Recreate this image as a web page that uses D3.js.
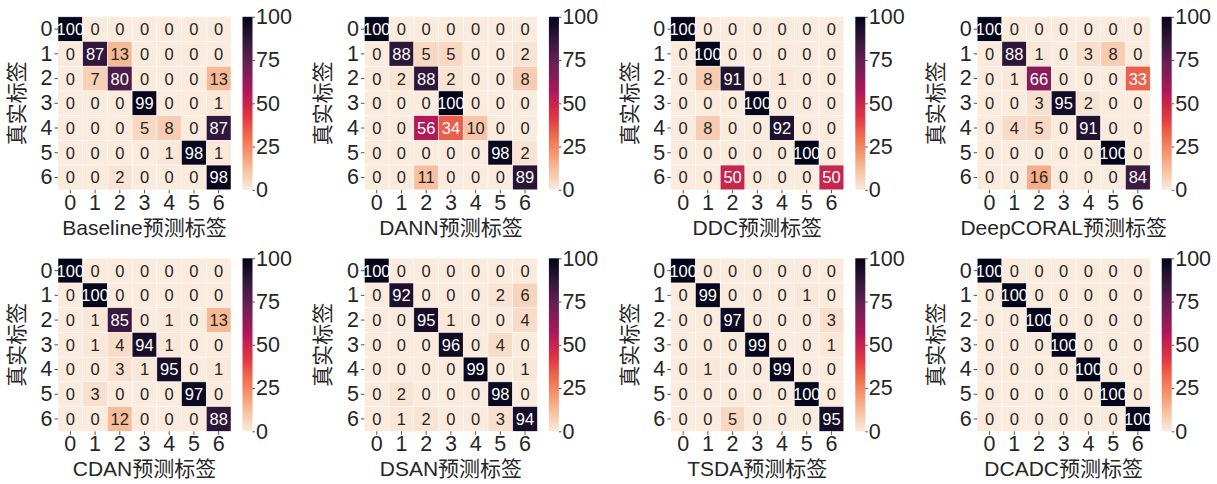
<!DOCTYPE html>
<html>
<head>
<meta charset="utf-8">
<script src="https://cdn.jsdelivr.net/npm/d3@7"></script>
<style>
  body { margin: 0; background: #fff; }
  svg text { font-family: "Liberation Sans", Arial, "Noto Sans CJK SC", sans-serif; fill: #262626; font-weight: normal; }
</style>
</head>
<body>
<div id="chart"></div>
<script>
// class labels 0..6
var classLabels = ["0", "1", "2", "3", "4", "5", "6"];
var colorbarTicks = [0, 25, 50, 75, 100];
var yTitle = "真实标签";

var methodNames = ["Baseline", "DANN", "DDC", "DeepCORAL", "CDAN", "DSAN", "TSDA", "DCADC"];

var baseline = [
  [100, 0, 0, 0, 0, 0, 0],
  [0, 87, 13, 0, 0, 0, 0],
  [0, 7, 80, 0, 0, 0, 13],
  [0, 0, 0, 99, 0, 0, 1],
  [0, 0, 0, 5, 8, 0, 87],
  [0, 0, 0, 0, 1, 98, 1],
  [0, 0, 2, 0, 0, 0, 98]
];
var dann = [
  [100, 0, 0, 0, 0, 0, 0],
  [0, 88, 5, 5, 0, 0, 2],
  [0, 2, 88, 2, 0, 0, 8],
  [0, 0, 0, 100, 0, 0, 0],
  [0, 0, 56, 34, 10, 0, 0],
  [0, 0, 0, 0, 0, 98, 2],
  [0, 0, 11, 0, 0, 0, 89]
];
var ddc = [
  [100, 0, 0, 0, 0, 0, 0],
  [0, 100, 0, 0, 0, 0, 0],
  [0, 8, 91, 0, 1, 0, 0],
  [0, 0, 0, 100, 0, 0, 0],
  [0, 8, 0, 0, 92, 0, 0],
  [0, 0, 0, 0, 0, 100, 0],
  [0, 0, 50, 0, 0, 0, 50]
];
var deepcoral = [
  [100, 0, 0, 0, 0, 0, 0],
  [0, 88, 1, 0, 3, 8, 0],
  [0, 1, 66, 0, 0, 0, 33],
  [0, 0, 3, 95, 2, 0, 0],
  [0, 4, 5, 0, 91, 0, 0],
  [0, 0, 0, 0, 0, 100, 0],
  [0, 0, 16, 0, 0, 0, 84]
];
var cdan = [
  [100, 0, 0, 0, 0, 0, 0],
  [0, 100, 0, 0, 0, 0, 0],
  [0, 1, 85, 0, 1, 0, 13],
  [0, 1, 4, 94, 1, 0, 0],
  [0, 0, 3, 1, 95, 0, 1],
  [0, 3, 0, 0, 0, 97, 0],
  [0, 0, 12, 0, 0, 0, 88]
];
var dsan = [
  [100, 0, 0, 0, 0, 0, 0],
  [0, 92, 0, 0, 0, 2, 6],
  [0, 0, 95, 1, 0, 0, 4],
  [0, 0, 0, 96, 0, 4, 0],
  [0, 0, 0, 0, 99, 0, 1],
  [0, 2, 0, 0, 0, 98, 0],
  [0, 1, 2, 0, 0, 3, 94]
];
var tsda = [
  [100, 0, 0, 0, 0, 0, 0],
  [0, 99, 0, 0, 0, 1, 0],
  [0, 0, 97, 0, 0, 0, 3],
  [0, 0, 0, 99, 0, 0, 1],
  [0, 1, 0, 0, 99, 0, 0],
  [0, 0, 0, 0, 0, 100, 0],
  [0, 0, 5, 0, 0, 0, 95]
];
var dcadc = [
  [100, 0, 0, 0, 0, 0, 0],
  [0, 100, 0, 0, 0, 0, 0],
  [0, 0, 100, 0, 0, 0, 0],
  [0, 0, 0, 100, 0, 0, 0],
  [0, 0, 0, 0, 100, 0, 0],
  [0, 0, 0, 0, 0, 100, 0],
  [0, 0, 0, 0, 0, 0, 100]
];

var matrices = [baseline, dann, ddc, deepcoral, cdan, dsan, tsda, dcadc];

// seaborn "rocket" stops, reversed so 0 is light
var rocketStops = ["#03051a", "#35193e", "#701f57", "#ad1759", "#e13342", "#f37651", "#f6b48f", "#faebdd"];

(function () {
  var rocket = d3.scaleLinear()
      .domain(d3.range(rocketStops.length).map(function(i){ return i / (rocketStops.length - 1); }))
      .range(rocketStops)
      .interpolate(d3.interpolateRgb);
  function color(v){ return rocket(1 - v / 100); }

  function textColor(v){
    var c = d3.rgb(color(v));
    function lin(x){ x = x / 255; return x <= 0.03928 ? x / 12.92 : Math.pow((x + 0.055) / 1.055, 2.4); }
    var lum = 0.2126 * lin(c.r) + 0.7152 * lin(c.g) + 0.0722 * lin(c.b);
    return lum > 0.408 ? "#262626" : "#ffffff";
  }

  var width = 1217, height = 484;
  var size = 173;
  var svg = d3.select("#chart").append("svg")
      .attr("width", width)
      .attr("height", height);

  var grad = svg.append("defs").append("linearGradient")
      .attr("id", "cbar")
      .attr("x1", 0).attr("y1", 1).attr("x2", 0).attr("y2", 0);
  d3.range(0, 101, 2).forEach(function(v){
    grad.append("stop").attr("offset", v + "%").attr("stop-color", color(v));
  });

  var x = d3.scaleBand().domain(classLabels).range([0, size]);
  var y = d3.scaleBand().domain(classLabels).range([0, size]);
  var cScale = d3.scaleLinear().domain([0, 100]).range([size, 0]);

  for (var k = 0; k < matrices.length; k++) {
    var col = k % 4, row = Math.floor(k / 4);
    var panelX = 58 + col * 306.4;
    var panelY = 16.8 + row * 241.5;
    drawPanel(matrices[k], methodNames[k], panelX, panelY);
  }

  function drawPanel(mat, name, px, py) {
    var g = svg.append("g").attr("transform", "translate(" + px + "," + py + ")");

    var cells = [];
    mat.forEach(function(r, i){
      r.forEach(function(v, j){ cells.push({ row: classLabels[i], col: classLabels[j], value: v }); });
    });

    g.selectAll("rect.cell")
      .data(cells)
      .enter()
      .append("rect")
      .attr("class", "cell")
      .attr("x", function(d){ return x(d.col); })
      .attr("y", function(d){ return y(d.row); })
      .attr("width", x.bandwidth())
      .attr("height", y.bandwidth())
      .attr("fill", function(d){ return color(d.value); })
      .attr("stroke", "#ffffff")
      .attr("stroke-opacity", 0.8)
      .attr("stroke-width", 0.6);

    g.selectAll("text.annot")
      .data(cells)
      .enter()
      .append("text")
      .attr("class", "annot")
      .attr("x", function(d){ return x(d.col) + x.bandwidth() / 2; })
      .attr("y", function(d){ return y(d.row) + y.bandwidth() / 2; })
      .attr("dy", "0.36em")
      .attr("text-anchor", "middle")
      .style("font-size", "16.5px")
      .style("fill", function(d){ return textColor(d.value); })
      .text(function(d){ return d.value; });

    var yAxis = g.append("g")
      .call(d3.axisLeft(y).tickSize(3.5).tickPadding(2));
    var xAxis = g.append("g")
      .attr("transform", "translate(0," + size + ")")
      .call(d3.axisBottom(x).tickSize(3.5).tickPadding(1));
    [xAxis, yAxis].forEach(function(a){
      a.attr("font-family", null);
      a.select(".domain").remove();
      a.selectAll("line").attr("stroke", "#262626").attr("stroke-width", 0.8);
      a.selectAll("text").style("font-size", "21.5px").style("fill", "#262626");
    });

    g.append("text")
      .attr("x", size / 2)
      .attr("y", size + 45)
      .attr("text-anchor", "middle")
      .style("font-size", "21px")
      .text(name + "预测标签");

    g.append("text")
      .attr("transform", "translate(-34," + (size / 2) + ") rotate(-90)")
      .attr("text-anchor", "middle")
      .style("font-size", "21px")
      .text(yTitle);

    var cb = g.append("g").attr("transform", "translate(" + (size + 11.5) + ",0)");
    cb.append("rect")
      .attr("width", 10)
      .attr("height", size)
      .attr("fill", "url(#cbar)");
    var cAxis = cb.append("g")
      .attr("transform", "translate(10,0)")
      .call(d3.axisRight(cScale).tickValues(colorbarTicks).tickSize(2.5).tickPadding(1));
    cAxis.attr("font-family", null);
    cAxis.select(".domain").remove();
    cAxis.selectAll("line").attr("stroke", "#262626").attr("stroke-width", 0.8);
    cAxis.selectAll("text").style("font-size", "21.5px").style("fill", "#262626");
  }
})();
</script>
</body>
</html>
